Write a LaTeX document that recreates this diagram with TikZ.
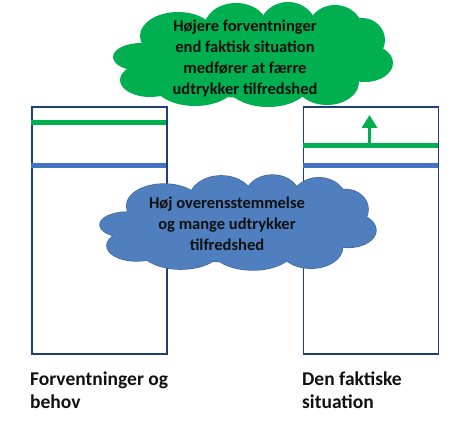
\documentclass[tikz,border=0pt]{standalone}
\usepackage{fontspec}
\setmainfont{Carlito}
\usetikzlibrary{arrows.meta}
\definecolor{boxblue}{HTML}{1F3F7A}
\definecolor{lineblue}{HTML}{4472C4}
\definecolor{offgreen}{HTML}{00B050}
\definecolor{cloudblue}{HTML}{4F7FBF}
\definecolor{cloudedge}{HTML}{41689C}
\definecolor{txt}{HTML}{111111}
\newcommand{\cloudblobs}[1]{%
  \path[#1] (252,58) ellipse [x radius=118pt, y radius=40pt];
  \path[#1] (178,36) ellipse [x radius=38pt, y radius=24pt];
  \path[#1] (236,28) ellipse [x radius=32pt, y radius=25pt];
  \path[#1] (288,27) ellipse [x radius=28pt, y radius=25pt];
  \path[#1] (335,31) ellipse [x radius=28pt, y radius=26pt];
  \path[#1] (362,40) ellipse [x radius=23pt, y radius=22pt];
  \path[#1] (365,63) ellipse [x radius=28pt, y radius=19pt];
  \path[#1] (327,82) ellipse [x radius=32pt, y radius=23pt];
  \path[#1] (268,83) ellipse [x radius=42pt, y radius=24pt];
  \path[#1] (195,82) ellipse [x radius=42pt, y radius=24pt];
  \path[#1] (150,80) ellipse [x radius=30pt, y radius=17pt];
  \path[#1] (141,57) ellipse [x radius=28pt, y radius=14pt];
}
\tikzset{
  colbox/.style={draw=boxblue, line width=1.8pt, fill=none},
  gline/.style={draw=offgreen, line width=4.5pt},
  bline/.style={draw=lineblue, line width=4.5pt},
  cloudtxt/.style={font=\fontsize{16.5pt}{21pt}\selectfont\bfseries, text=txt, align=center},
  lbl/.style={font=\fontsize{19.5pt}{23pt}\selectfont\bfseries, text=txt, align=left, anchor=north west, inner sep=0pt}
}
\begin{document}
\begin{tikzpicture}[x=1pt,y=-1pt]
\useasboundingbox (0,0) rectangle (462,438);
% boxes
\node[colbox, minimum width=135pt, minimum height=247pt, inner sep=0pt, anchor=north west] (L) at (31,106) {};
\node[colbox, minimum width=135pt, minimum height=247pt, inner sep=0pt, anchor=north west] (R) at (302.5,106) {};
% lines
\coordinate (Lg1) at (31,122.5); \coordinate (Lg2) at (166,122.5);
\coordinate (Lb1) at (31,165.5); \coordinate (Lb2) at (166,165.5);
\coordinate (Rg1) at (302.5,145.5); \coordinate (Rg2) at (437.5,145.5);
\coordinate (Rb1) at (302.5,165.5); \coordinate (Rb2) at (437.5,165.5);
\draw[gline] (Lg1) -- (Lg2);
\draw[bline] (Lb1) -- (Lb2);
\draw[gline] (Rg1) -- (Rg2);
\draw[bline] (Rb1) -- (Rb2);
% arrow
\coordinate (As) at (369.5,145);
\coordinate (At) at (369.5,115);
\draw[draw=offgreen, line width=3.5pt, -{Triangle[length=13pt,width=15pt]}] (As) -- (At);
% green cloud
\cloudblobs{fill=offgreen}
\node[cloudtxt] (gt) at (245,59) {Højere forventninger\\end faktisk situation\\medfører at færre\\udtrykker tilfredshed};
% blue cloud
\begin{scope}[shift={(-11.39pt,-173.19pt)}, xscale=0.9857, yscale=0.9048]
  \cloudblobs{draw=cloudedge, line width=1.4pt}
  \cloudblobs{fill=cloudblue}
\end{scope}
\node[cloudtxt] (bt) at (227,224) {Høj overensstemmelse\\og mange udtrykker\\tilfredshed};
% labels
\node[lbl] (ll) at (30,372) {Forventninger og\\behov};
\node[lbl] (rl) at (302,372) {Den faktiske\\situation};
\end{tikzpicture}
\end{document}
